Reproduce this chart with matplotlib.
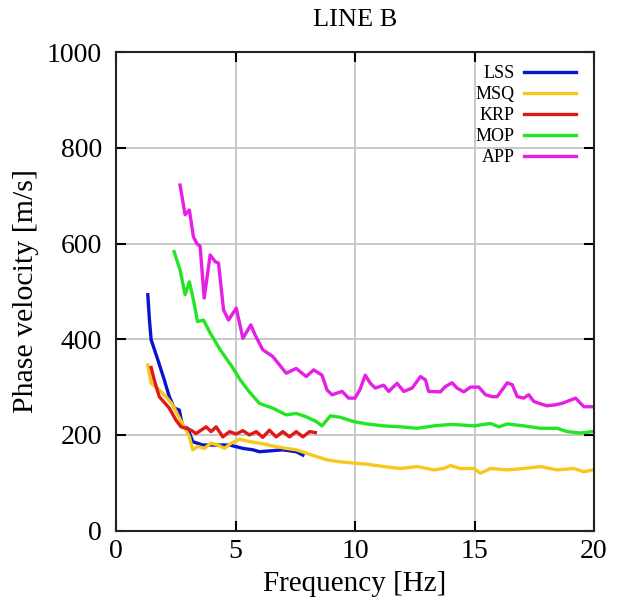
import matplotlib
matplotlib.use("Agg")
from matplotlib import pyplot as plt

plt.rcParams['font.family'] = ['Liberation Serif', 'DejaVu Serif']

# Data (frequency [Hz], phase velocity [m/s])
lss_f = [1.33, 1.40, 1.47, 1.75, 2.02, 2.23, 2.44, 2.65, 2.79, 3.0, 3.21, 3.63,
         4.19, 4.75, 5.31, 5.73, 6.0, 6.98, 7.54, 7.82]
lss_v = [493, 440, 399, 357, 315, 280, 256, 252, 217, 214, 186, 179,
         179, 179, 172, 169, 165, 169, 165, 158]

msq_f = [1.33, 1.47, 1.81, 2.09, 2.37, 2.58, 2.86, 3.07, 3.21, 3.42, 3.70, 3.98,
         4.26, 4.54, 4.82, 5.17, 5.58, 6.0, 6.56, 7.12, 7.54, 7.96, 8.38, 8.83,
         9.38, 10.0, 10.5, 11.2, 11.9, 12.6, 13.3, 13.7, 14.0, 14.4, 14.97, 15.25,
         15.67, 16.37, 17.06, 17.76, 18.46, 19.16, 19.58, 19.93]
msq_v = [346, 308, 294, 280, 263, 242, 217, 196, 169, 176, 172, 183,
         179, 172, 183, 191, 186, 183, 177, 172, 169, 162, 155, 148,
         144, 141, 139, 134, 130, 134, 127, 130, 136, 130, 130, 120,
         130, 127, 130, 134, 127, 130, 123, 127]

krp_f = [1.47, 1.60, 1.81, 2.23, 2.51, 2.72, 2.93, 3.14, 3.35, 3.56, 3.77, 3.98,
         4.19, 4.47, 4.75, 5.03, 5.31, 5.58, 5.87, 6.14, 6.42, 6.70, 6.98, 7.26,
         7.54, 7.82, 8.1, 8.34]
krp_v = [341, 315, 280, 256, 231, 217, 214, 210, 203, 210, 217, 207,
         217, 196, 207, 202, 209, 200, 207, 195, 210, 196, 207, 196,
         207, 196, 207, 205]

mop_f = [2.43, 2.68, 2.89, 3.07, 3.24, 3.41, 3.66, 3.94, 4.36, 4.85, 5.2, 5.58,
         6.0, 6.56, 7.12, 7.54, 7.96, 8.38, 8.62, 8.97, 9.38, 9.94, 10.5, 11.2,
         11.9, 12.6, 13.3, 14.0, 14.4, 14.97, 15.67, 16.02, 16.37, 17.06, 17.76,
         18.46, 18.88, 19.44, 19.93]
mop_v = [583, 545, 493, 520, 482, 437, 440, 413, 378, 343, 315, 290,
         266, 256, 242, 245, 238, 228, 219, 240, 237, 228, 223, 219,
         217, 214, 219, 222, 221, 219, 224, 217, 223, 219, 214,
         214, 207, 204, 207]

app_f = [2.68, 2.89, 3.07, 3.24, 3.38, 3.52, 3.69, 3.94, 4.15, 4.29, 4.50, 4.71,
         5.03, 5.31, 5.64, 5.82, 6.14, 6.56, 7.12, 7.54, 7.96, 8.27, 8.62, 8.83,
         9.04, 9.46, 9.73, 10.0, 10.2, 10.43, 10.64, 10.85, 11.2, 11.41, 11.76,
         12.04, 12.39, 12.74, 12.95, 13.08, 13.57, 13.78, 14.06, 14.27, 14.55,
         14.83, 15.18, 15.46, 15.74, 15.95, 16.37, 16.58, 16.79, 17.06, 17.27,
         17.48, 17.76, 18.04, 18.38, 18.66, 19.23, 19.44, 19.58, 19.93]
app_v = [722, 660, 670, 614, 600, 594, 486, 576, 562, 559, 461, 440,
         465, 402, 430, 409, 378, 364, 329, 339, 322, 336, 325, 294,
         284, 291, 277, 277, 294, 325, 308, 298, 304, 291, 308,
         291, 298, 322, 315, 291, 290, 301, 309, 298, 290,
         300, 300, 284, 280, 280, 309, 305, 280, 277, 284,
         270, 265, 261, 263, 266, 277, 266, 259, 259]

names = ['LSS', 'MSQ', 'KRP', 'MOP', 'APP']
colors = ['#0a14cc', '#f7c81a', '#e01818', '#22e622', '#e61ee6']
series = [(lss_f, lss_v), (msq_f, msq_v), (krp_f, krp_v), (mop_f, mop_v), (app_f, app_v)]

x_ticks = [0, 5, 10, 15, 20]
y_ticks = [0, 200, 400, 600, 800, 1000]

fig = plt.figure(figsize=(6.25, 6.05), dpi=100)
ax = fig.add_axes([0.1856, 0.1228, 0.7648, 0.7912])

for (f, v), name, c in zip(series, names, colors):
    ax.plot(f, v, color=c, lw=2.4, label=name)

ax.set_xlim(0, 20)
ax.set_ylim(0, 1000)
ax.set_xticks(x_ticks)
ax.set_yticks(y_ticks)
ax.grid(True, color='#c4c4c4', lw=1.3)
ax.set_axisbelow(True)
ax.tick_params(direction='in', length=7, width=1.5, top=True, right=True,
               labelsize=20)
ax.tick_params(axis='y', pad=10)
ax.tick_params(axis='x', pad=6)
for s in ax.spines.values():
    s.set_linewidth(1.5)
    s.set_color('#222222')

ax.set_title('LINE B', fontsize=19, pad=19)
ax.set_xlabel('Frequency [Hz]', fontsize=21, labelpad=5)
ax.set_ylabel('Phase velocity [m/s]', fontsize=21.5, labelpad=6)

ax.legend(loc='upper right', bbox_to_anchor=(0.985, 0.995), frameon=False,
          markerfirst=False, fontsize=13, handlelength=2.9, handletextpad=0.5,
          labelspacing=0.22, borderaxespad=0.2)

fig.savefig('out.png', dpi=100)
